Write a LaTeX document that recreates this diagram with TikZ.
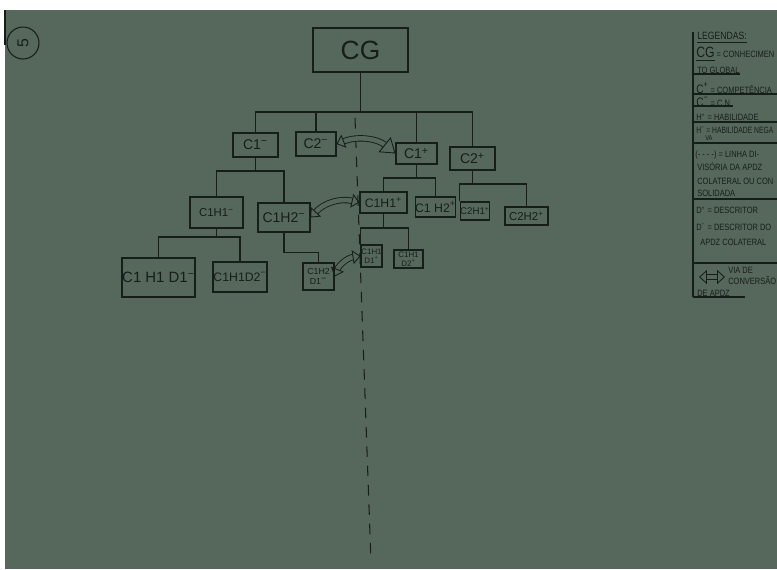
\documentclass[tikz,border=0pt]{standalone}
\usepackage{fontspec}
\setmainfont{Liberation Sans}
\usetikzlibrary{arrows.meta, positioning}
\definecolor{board}{RGB}{86,104,91}
\definecolor{ink}{RGB}{22,30,26}
\tikzstyle{card} = [rectangle, draw=ink, line width=0.6pt, inner sep=0pt, text=ink, align=center, font=\fontsize{8}{9}\selectfont]
\tikzstyle{branch} = [draw=ink, line width=0.6pt]
\tikzstyle{convert} = [draw=ink, line width=0.5pt, double=board, double distance=2.6pt, {Triangle[open, length=4.5pt, width=8pt]}-{Triangle[open, length=4.5pt, width=8pt]}]
\tikzstyle{legtext} = [anchor=west, inner sep=0pt, text=ink, xscale=0.82, font=\fontsize{5.2}{6}\selectfont]

\begin{document}
\begin{tikzpicture}[x=0.02cm, y=-0.02cm]
        \useasboundingbox (0,0) rectangle (777,569);
        \fill[white] (0,0) rectangle (777,569);
        \fill[board] (5,10) rectangle (777,569);
        \draw[branch] (5,10) -- (5,45);

        \node[circle, draw=ink, line width=0.6pt, minimum size=0.64cm, inner sep=0pt, rotate=90, text=ink, font=\fontsize{9}{9}\selectfont] (page) at (23,43) {5};

        \node[card, minimum width=1.9cm, minimum height=0.88cm, font=\fontsize{15}{15}\selectfont] (cg) at (360.5,50) {CG};
        \node[card, minimum width=0.9cm, minimum height=0.48cm] (c1m) at (255.5,145) {C1\textsuperscript{−}};
        \node[card, minimum width=0.8cm, minimum height=0.48cm] (c2m) at (316,144) {C2\textsuperscript{−}};
        \node[card, minimum width=0.82cm, minimum height=0.42cm] (c1p) at (416.5,153.5) {C1\textsuperscript{+}};
        \node[card, minimum width=0.9cm, minimum height=0.46cm] (c2p) at (472.5,158.5) {C2\textsuperscript{+}};

        \node[card, minimum width=1.06cm, minimum height=0.62cm, font=\fontsize{6.5}{7}\selectfont] (c1h1m) at (216.5,212.5) {C1H1\textsuperscript{−}};
        \node[card, minimum width=1.04cm, minimum height=0.58cm] (c1h2m) at (284,217.5) {C1H2\textsuperscript{−}};
        \node[card, minimum width=0.94cm, minimum height=0.42cm, font=\fontsize{7}{8}\selectfont] (c1h1p) at (383.5,202.5) {C1H1\textsuperscript{+}};
        \node[card, minimum width=0.78cm, minimum height=0.4cm, font=\fontsize{7}{8}\selectfont] (c1h2p) at (435.5,207) {C1 H2\textsuperscript{+}};
        \node[card, minimum width=0.56cm, minimum height=0.36cm, font=\fontsize{5.5}{6}\selectfont] (c2h1p) at (475,211) {C2H1\textsuperscript{+}};
        \node[card, minimum width=0.86cm, minimum height=0.36cm, font=\fontsize{6.5}{7}\selectfont] (c2h2p) at (526.5,216) {C2H2\textsuperscript{+}};

        \node[card, minimum width=1.46cm, minimum height=0.78cm, font=\fontsize{8.5}{9}\selectfont] (c1h1d1m) at (158.5,277.5) {C1 H1 D1\textsuperscript{−}};
        \node[card, minimum width=1.08cm, minimum height=0.6cm, font=\fontsize{7}{8}\selectfont] (c1h1d2m) at (240,277) {C1H1D2\textsuperscript{−}};
        \node[card, minimum width=0.62cm, minimum height=0.54cm, font=\fontsize{5}{6}\selectfont] (c1h2d1m) at (318.5,276.5) {C1H2\\D1\textsuperscript{−}};
        \node[card, minimum width=0.42cm, minimum height=0.44cm, font=\fontsize{4.5}{5}\selectfont] (c1h1d1p) at (371.5,256) {C1H1\\D1\textsuperscript{+}};
        \node[card, minimum width=0.58cm, minimum height=0.36cm, font=\fontsize{4.5}{5}\selectfont] (c1h1d2p) at (408.5,259) {C1H1\\D2\textsuperscript{+}};

        \coordinate (bar0) at (360.5,112);
        \coordinate (bar1) at (255.5,171);
        \coordinate (bar2) at (216.5,237);
        \coordinate (bar4) at (416.5,178);
        \coordinate (bar5) at (472.5,184);
        \coordinate (bar6) at (383.5,228);

        \draw[branch] (cg.south) -- (bar0);
        \draw[branch] (c1m.north) |- (bar0) -| (c2p.north);
        \draw[branch] (bar0) -| (c2m.north);
        \draw[branch] (bar0) -| (c1p.north);
        \draw[branch] (c1m.south) -- (bar1);
        \draw[branch] (c1h1m.north) |- (bar1) -| (c1h2m.north);
        \draw[branch] (c1h1m.south) -- (bar2);
        \draw[branch] (c1h1d1m.north) |- (bar2) -| (c1h1d2m.north);
        \draw[branch] (c1h2m.south) -- ++(0,20) -| (c1h2d1m.north);
        \draw[branch] (c1p.south) -- (bar4);
        \draw[branch] (c1h1p.north) |- (bar4) -| (c1h2p.north);
        \draw[branch] (c2p.south) -- (bar5);
        \draw[branch] (c2h1p.north west) |- (bar5) -| (c2h2p.north);
        \draw[branch] (c1h1p.south) -- (bar6);
        \draw[branch] (c1h1d1p.north west) |- (bar6) -| (c1h1d2p.north);

        \coordinate (cuttop) at (355,118);
        \coordinate (cutbot) at (371,562);
        \draw[draw=ink, line width=0.6pt, dash pattern=on 6pt off 5pt] (cuttop) -- (cutbot);

        \draw[convert, {Triangle[open, length=4.5pt, width=8pt]}-{Triangle[open, length=8pt, width=11pt]}] (c2m.east) to[bend left=30] (c1p.west);
        \draw[convert] (c1h2m.east) to[bend left=30] (c1h1p.west);
        \draw[convert] (c1h2d1m.east) to[bend left=30] (c1h1d1p.west);

        \begin{scope}
        \clip (0,0) rectangle (777,569);
        \draw[branch] (693,32) -- (693,297);
        \node[legtext, font=\fontsize{6}{7}\selectfont] (lg0) at (697,38) {\underline{LEGENDAS:}};
        \node[legtext] (lg1) at (696,54) {{\fontsize{8.5}{9}\selectfont\underline{CG}} = CONHECIMEN};
        \node[legtext] (lg2) at (697,70) {TO GLOBAL};
        \node[legtext] (lg3) at (696,88) {{\fontsize{7}{8}\selectfont C\textsuperscript{+}} = COMPETÊNCIA};
        \node[legtext] (lg4) at (696,102) {{\fontsize{7}{8}\selectfont C\textsuperscript{−}} = C.N.};
        \node[legtext] (lg5) at (696,117) {H\textsuperscript{+} = HABILIDADE};
        \node[legtext, xscale=0.9] (lg6) at (696,130) {H\textsuperscript{−} = HABILIDADE NEGA};
        \node[legtext, font=\fontsize{4}{5}\selectfont] (lg7) at (705,138) {VA};
        \node[legtext] (lg8) at (695,155) {(- - - -) = LINHA DI-};
        \node[legtext] (lg9) at (697,167) {VISÓRIA DA APDZ};
        \node[legtext] (lg10) at (697,181) {COLATERAL OU CON};
        \node[legtext] (lg11) at (697,193) {SOLIDADA};
        \node[legtext] (lg12) at (696,210) {D\textsuperscript{+} = DESCRITOR};
        \node[legtext] (lg13) at (696,227) {D\textsuperscript{−} = DESCRITOR DO};
        \node[legtext] (lg14) at (700,242) {APDZ COLATERAL};
        \node[legtext] (lg15) at (728,270) {VIA DE};
        \node[legtext] (lg16) at (728,281) {CONVERSÃO};
        \node[legtext] (lg17) at (697,293) {DE APDZ};
        \draw[branch] (693,74) -- (740,74);
        \draw[branch] (693,94) -- (777,94);
        \draw[branch] (693,106) -- (733,106);
        \draw[branch] (693,122) -- (777,122);
        \draw[branch] (693,143) -- (777,143);
        \draw[branch] (693,199) -- (777,199);
        \draw[branch] (693,263) -- (777,263);
        \draw[branch] (693,297) -- (745,297);
        \coordinate (lga) at (699,277);
        \coordinate (lgb) at (725,277);
        \draw[convert] (lga) -- (lgb);
        \end{scope}
    \end{tikzpicture}
\end{document}
